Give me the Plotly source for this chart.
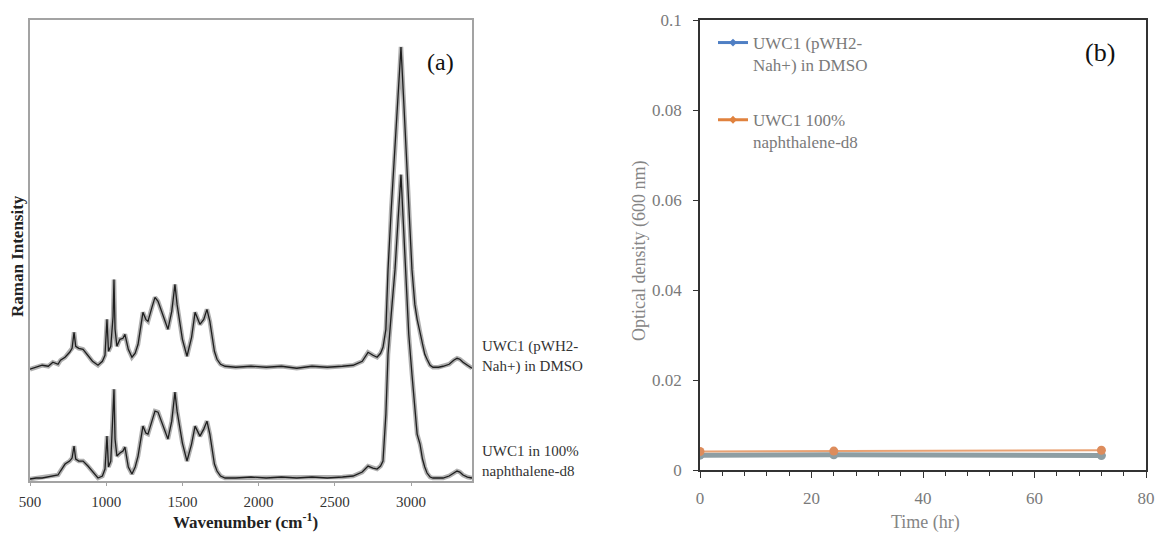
import plotly.graph_objects as go

W, H = 1158, 535

# ---------------- Data ----------------
wavenumber = [500, 540, 580, 620, 650, 684, 700, 730, 760, 776, 789, 800, 820, 848, 880, 910,
              946, 975, 992, 1005, 1015, 1030, 1045, 1051, 1058, 1070, 1090, 1110, 1123, 1145,
              1169, 1190, 1209, 1230, 1241, 1260, 1274, 1300, 1320, 1340, 1370, 1405, 1430, 1451,
              1465, 1478, 1500, 1530, 1560, 1583, 1600, 1615, 1640, 1661, 1680, 1694, 1710, 1727,
              1750, 1780, 1850, 1950, 2050, 2150, 2250, 2350, 2450, 2550, 2620, 2680, 2718, 2750,
              2777, 2800, 2816, 2835, 2849, 2870, 2895, 2915, 2934, 2950, 2967, 2985, 3006, 3025,
              3040, 3059, 3075, 3090, 3105, 3125, 3144, 3180, 3210, 3250, 3280, 3302, 3320, 3341,
              3370, 3400]

raman_dmso = [110, 112, 114, 113, 117, 115, 119, 122, 127, 131, 147, 133, 131, 130, 124, 118,
              114, 118, 124, 160, 128, 133, 163, 200, 150, 133, 140, 141, 145, 130,
              122, 126, 135, 155, 167, 160, 158, 172, 182, 178, 165, 150, 168, 195,
              175, 160, 140, 123, 142, 167, 160, 155, 160, 170, 158, 143, 128, 120,
              115, 113, 112, 113, 112, 113, 111, 113, 112, 113, 114, 118, 127, 124,
              122, 126, 132, 150, 210, 270, 330, 385, 433, 385, 333, 270, 210, 175,
              160, 147, 135, 125, 120, 114, 112, 112, 113, 115, 119, 121, 120, 117,
              114, 111]

raman_d8 = [0, 1, 1, 2, 3, 4, 8, 15, 18, 21, 33, 20, 18, 18, 13, 8,
            1, 3, 10, 43, 12, 18, 63, 90, 40, 23, 26, 28, 32, 12,
            5, 12, 23, 45, 53, 46, 45, 58, 68, 67, 55, 40, 58, 87,
            68, 57, 36, 18, 35, 53, 47, 43, 50, 58, 45, 30, 15, 8,
            3, 1, 1, 2, 1, 2, 1, 2, 1, 2, 3, 7, 13, 11,
            10, 13, 18, 65, 125, 165, 210, 260, 305, 255, 195, 145, 105, 70,
            45, 35, 20, 12, 6, 2, 1, 1, 1, 3, 6, 8, 7, 4,
            2, 1]

time_hr = [0, 24, 72]
od_dmso = [0.0033, 0.0034, 0.0032]
od_d8 = [0.0041, 0.0042, 0.0044]

label_dmso_a = "UWC1 (pWH2-<br>Nah+) in DMSO"
label_d8_a = "UWC1 in 100%<br>naphthalene-d8"
legend_dmso = "UWC1 (pWH2-<br>Nah+) in DMSO"
legend_d8 = "UWC1 100%<br>naphthalene-d8"

# ---------------- Helpers ----------------
def px(x):
    return x / W

def py(y):
    return 1 - y / H

SERIF = "Liberation Serif, Times New Roman, serif"

fig = go.Figure()

# ---- Panel (a): Raman spectra (gray halo + dark line) ----
for series in (raman_dmso, raman_d8):
    fig.add_trace(go.Scatter(x=wavenumber, y=series, mode="lines", xaxis="x", yaxis="y",
                             line=dict(color="rgba(110,110,110,0.55)", width=4.5),
                             showlegend=False, hoverinfo="skip"))
    fig.add_trace(go.Scatter(x=wavenumber, y=series, mode="lines", xaxis="x", yaxis="y",
                             line=dict(color="#1e1e1e", width=1.3),
                             showlegend=False))

# ---- Panel (b): optical density ----
fig.add_trace(go.Scatter(x=time_hr, y=od_dmso, mode="lines+markers", xaxis="x2", yaxis="y2",
                         line=dict(color="#8e9ea3", width=5),
                         marker=dict(color="#8e9ea3", size=9),
                         showlegend=False))
fig.add_trace(go.Scatter(x=time_hr, y=od_d8, mode="lines+markers", xaxis="x2", yaxis="y2",
                         line=dict(color="#e9a273", width=2),
                         marker=dict(color="#dd8c5c", size=9),
                         showlegend=False))
# legend entries (colours as shown in the legend)
fig.add_trace(go.Scatter(x=[None], y=[None], mode="lines+markers", xaxis="x2", yaxis="y2",
                         name=legend_dmso, legendgroup="g1",
                         line=dict(color="#4f7fc4", width=3),
                         marker=dict(color="#4f7fc4", size=6, symbol="diamond")))
fig.add_trace(go.Scatter(x=[None], y=[None], mode="lines+markers", xaxis="x2", yaxis="y2",
                         name=legend_d8, legendgroup="g2",
                         line=dict(color="#e0823e", width=3),
                         marker=dict(color="#e0823e", size=6, symbol="diamond")))

annotations = [
    dict(text="(a)", x=px(440), y=py(62), font=dict(size=24, color="#111")),
    dict(text="(b)", x=px(1100), y=py(53), font=dict(size=26, color="#111")),
    dict(text=label_dmso_a, x=px(480), y=py(356), xanchor="left", align="left",
         font=dict(size=15, color="#333")),
    dict(text=label_d8_a, x=px(480), y=py(461), xanchor="left", align="left",
         font=dict(size=15, color="#333")),
    dict(text="<b>Raman Intensity</b>", x=px(18), y=py(256), textangle=-90,
         font=dict(size=17, color="#222")),
    dict(text="<b>Wavenumber (cm<sup>-1</sup>)</b>", x=px(245), y=py(521),
         font=dict(size=17, color="#222")),
    dict(text="Optical density (600 nm)", x=px(639), y=py(251), textangle=-90,
         font=dict(size=18, color="#858585")),
    dict(text="Time (hr)", x=px(925), y=py(522),
         font=dict(size=18, color="#858585")),
]
for a in annotations:
    a.setdefault("xanchor", "center")
    a.update(xref="paper", yref="paper", yanchor="middle", showarrow=False)
    a["font"]["family"] = SERIF

fig.update_layout(
    template="none",
    width=W, height=H,
    margin=dict(l=0, r=0, t=0, b=0, pad=0),
    paper_bgcolor="white", plot_bgcolor="white",
    font=dict(family=SERIF),
    annotations=annotations,
    xaxis=dict(domain=[px(30), px(472)], range=[500, 3400], tickvals=[500, 1000, 1500, 2000, 2500, 3000],
               showline=True, linecolor="#a3a3a3", linewidth=2, mirror=True,
               ticks="outside", ticklen=3, tickcolor="#a3a3a3", ticklabelstandoff=3,
               tickfont=dict(size=15, color="#333", family=SERIF), showgrid=False, zeroline=False,
               anchor="y", automargin=False),
    yaxis=dict(domain=[py(481), py(20)], range=[-2, 460], showticklabels=False, ticks="",
               showline=True, linecolor="#a3a3a3", linewidth=2, mirror=True,
               showgrid=False, zeroline=False, anchor="x", automargin=False),
    xaxis2=dict(domain=[px(700), px(1146)], range=[0, 80], dtick=20,
                showline=True, linecolor="#333", linewidth=1.5, mirror=True,
                ticks="outside", ticklen=6, tickcolor="#333", ticklabelstandoff=6,
                minor=dict(dtick=4, ticks="outside", ticklen=4, tickcolor="#333"),
                tickfont=dict(size=17, color="#7a7a7a", family=SERIF), showgrid=False, zeroline=False,
                anchor="y2", automargin=False),
    yaxis2=dict(domain=[py(470), py(20)], range=[0, 0.1], dtick=0.02,
                showline=True, linecolor="#333", linewidth=1.5, mirror=True,
                ticks="outside", ticklen=5, tickcolor="#333", ticklabelstandoff=8,
                tickfont=dict(size=17, color="#7a7a7a", family=SERIF), showgrid=False, zeroline=False,
                anchor="x2", automargin=False),
    legend=dict(x=px(713), y=py(25), xanchor="left", yanchor="top",
                bgcolor="rgba(0,0,0,0)", font=dict(size=17, color="#7a7a7a", family=SERIF),
                traceorder="grouped", tracegroupgap=30, valign="top", itemwidth=30),
)

fig.write_html("out.html", config={"displayModeBar": False},
               post_script="document.body.style.margin='0px';document.body.style.overflow='hidden';")
